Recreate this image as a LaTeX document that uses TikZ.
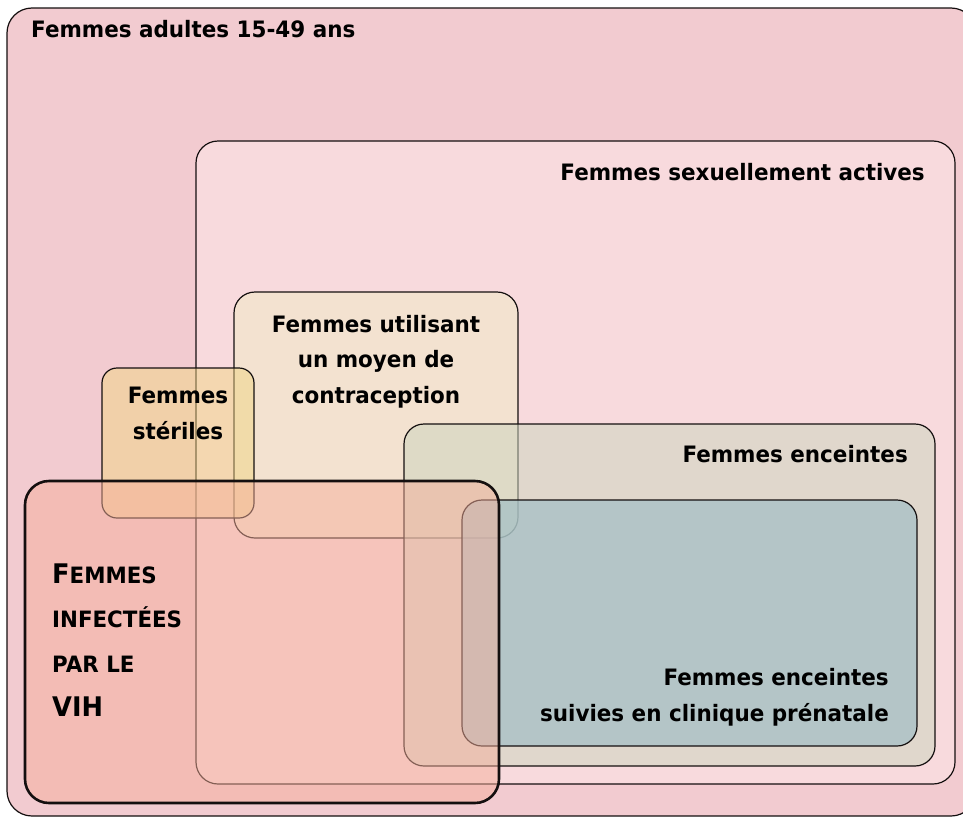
\documentclass[tikz,border=0pt]{standalone}
\usepackage{fontspec}
\setmainfont[BoldFont={DejaVu Sans Bold},FakeStretch=0.95]{DejaVu Sans}
\definecolor{outerc}{RGB}{242,203,208}
\definecolor{sexc}{RGB}{248,218,221}
\definecolor{contrc}{RGB}{243,226,208}
\definecolor{sterc}{RGB}{241,213,132}
\definecolor{encc}{RGB}{205,213,191}
\definecolor{clinc}{RGB}{162,190,197}
\definecolor{vihc}{RGB}{245,175,155}
\definecolor{linec}{RGB}{20,15,15}
\tikzset{
  box/.style={draw=linec, line width=1.2pt},
  lbl/.style={font=\bfseries\fontsize{22.6}{35.5}\selectfont, inner sep=0pt, text=black},
  vihl/.style={inner sep=0pt, anchor=base west, font=\bfseries, text=black},
}
\begin{document}
\begin{tikzpicture}[x=1pt,y=-1pt]
\useasboundingbox (0,0) rectangle (963,819);
% boxes
\path[box, fill=outerc, rounded corners=25pt] (7,8) rectangle (976,816);
\path[box, fill=sexc, rounded corners=22pt] (196,141) rectangle (955,784);
\path[box, fill=contrc, rounded corners=21pt] (234,292) rectangle (518,538);
\path[box, fill=sterc, fill opacity=0.5, rounded corners=15pt] (102,368) rectangle (254,518);
\path[box, fill=encc, fill opacity=0.55, rounded corners=20pt] (404,424) rectangle (935,766);
\path[box, fill=clinc, fill opacity=0.7, rounded corners=20pt] (462,500) rectangle (917,746);
\path[box, line width=2.6pt, fill=vihc, fill opacity=0.5, rounded corners=24pt] (25,481) rectangle (499,803);
% labels
\node[lbl, anchor=base west] (tadult) at (31,37) {Femmes adultes 15-49 ans};
\node[lbl, anchor=base east] (tsex) at (925,180) {Femmes sexuellement actives};
\node[lbl, align=center, anchor=base] (tcontr) at (376,403) {Femmes utilisant\\un moyen de\\contraception};
\node[lbl, align=center, anchor=base] (tster) at (178,439) {Femmes\\stériles};
\node[lbl, anchor=base east] (tenc) at (908,462) {Femmes enceintes};
\node[lbl, align=right, anchor=base east] (tclin) at (889,721) {Femmes enceintes\\suivies en clinique prénatale};
\node[vihl] (tvih1) at (52,583) {\fontsize{27}{30}\selectfont F\fontsize{22.5}{30}\selectfont EMMES};
\node[vihl] (tvih2) at (52,627) {\fontsize{22.5}{30}\selectfont INFECTÉES};
\node[vihl] (tvih3) at (52,672) {\fontsize{22.5}{30}\selectfont PAR LE};
\node[vihl] (tvih4) at (52,716) {\fontsize{27}{30}\selectfont VIH};
\end{tikzpicture}
\end{document}
